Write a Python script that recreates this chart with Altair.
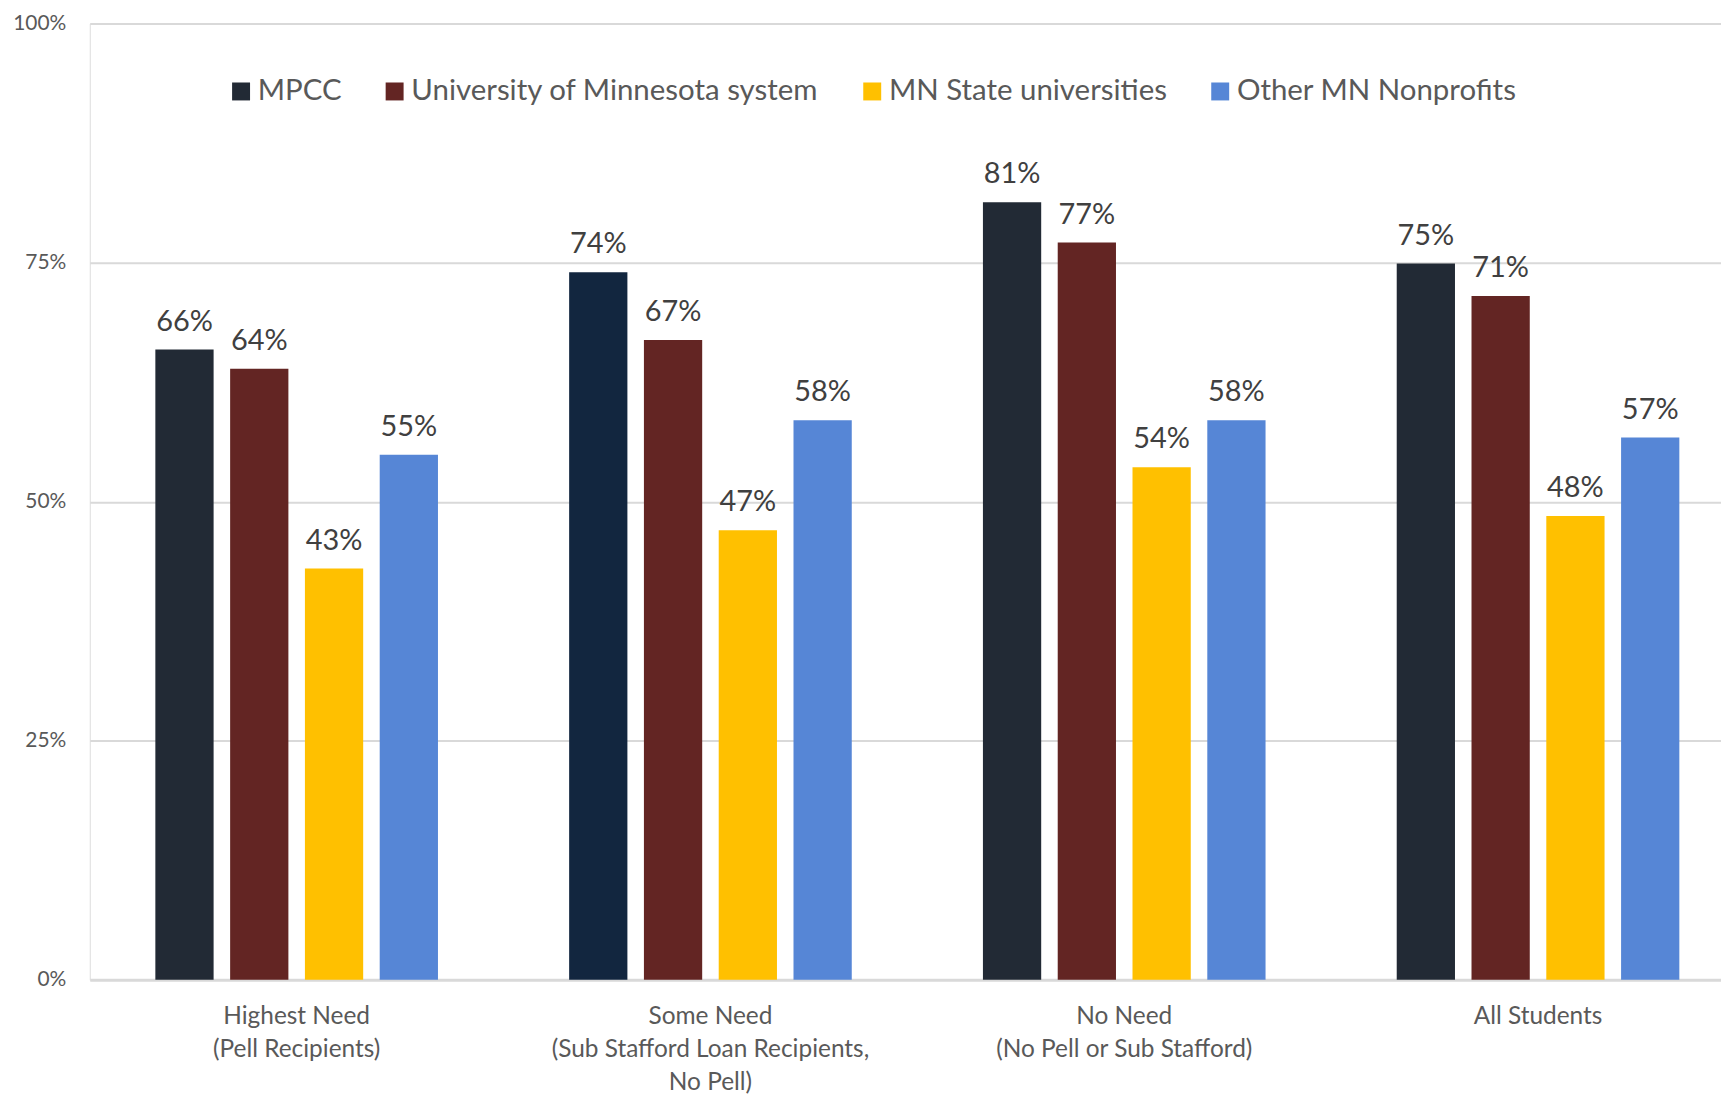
import altair as alt
import pandas as pd

FONT = "Lato"

categories = [
    "Highest Need\n(Pell Recipients)",
    "Some Need\n(Sub Stafford Loan Recipients,\nNo Pell)",
    "No Need\n(No Pell or Sub Stafford)",
    "All Students",
]
series = ["MPCC", "University of Minnesota system", "MN State universities", "Other MN Nonprofits"]

mpcc = [65.9, 74.0, 81.3, 74.9]
umn = [63.9, 66.9, 77.1, 71.5]
mn_state = [43.0, 47.0, 53.6, 48.5]
other_mn = [54.9, 58.5, 58.5, 56.7]

mpcc_labels = ["66%", "74%", "81%", "75%"]
umn_labels = ["64%", "67%", "77%", "71%"]
mn_state_labels = ["43%", "47%", "54%", "48%"]
other_mn_labels = ["55%", "58%", "58%", "57%"]

# the MPCC bar in "Some Need" has a slightly different (navier) shade
mpcc_shades = ["MPCC", "MPCC alt", "MPCC", "MPCC"]

colors = ["#222A35", "#632523", "#FFC000", "#5686D6"]
alt_color = "#12263F"

rows = []
for vals, labs, s in [(mpcc, mpcc_labels, series[0]), (umn, umn_labels, series[1]),
                      (mn_state, mn_state_labels, series[2]), (other_mn, other_mn_labels, series[3])]:
    for i, c in enumerate(categories):
        shade = mpcc_shades[i] if s == "MPCC" else s
        rows.append({"category": c, "series": s, "value": vals[i], "label": labs[i], "shade": shade})
df = pd.DataFrame(rows)

x_enc = alt.X(
    "category:N", sort=categories,
    scale=alt.Scale(range=[0, 1660], paddingInner=0, paddingOuter=0),
    axis=alt.Axis(title=None, labelExpr="split(datum.label, '\\n')", labelAngle=0,
                  labelFontSize=24.5, labelColor="#595959", labelFont=FONT,
                  labelPadding=25, labelLineHeight=33, ticks=False, labelLimit=1000,
                  domain=False, labelBaseline="top", grid=False),
)
xoff_enc = alt.XOffset("series:N", sort=series,
                       scale=alt.Scale(paddingInner=0.221, paddingOuter=0.877))
y_enc = alt.Y(
    "value:Q", scale=alt.Scale(domain=[0, 100], nice=False),
    axis=alt.Axis(values=[0, 25, 50, 75, 100], labelExpr="datum.value + '%'", title=None,
                  ticks=False, domain=False, domainColor="transparent", domainWidth=0,
                  domainOpacity=0, gridColor="#D9D9D9",
                  gridWidth=alt.ExprRef("datum.value === 0 ? 3 : 2"),
                  labelFontSize=21, labelColor="#595959", labelFont=FONT,
                  labelPadding=24, minExtent=77, maxExtent=77),
)

bars = alt.Chart(df).mark_bar().encode(
    x=x_enc, xOffset=xoff_enc, y=y_enc,
    color=alt.Color(
        "shade:N",
        scale=alt.Scale(domain=series + ["MPCC alt"], range=colors + [alt_color]),
        legend=alt.Legend(values=series, orient="none", legendX=137, legendY=53,
                          direction="horizontal", title=None, symbolType="square",
                          symbolSize=324, symbolStrokeWidth=0, labelFontSize=29.5,
                          labelFont=FONT, labelColor="#595959", columnPadding=38,
                          labelOffset=2, padding=0, labelLimit=1000),
    ),
)

texts = alt.Chart(df).mark_text(
    baseline="alphabetic", dy=-19, fontSize=29, font=FONT, color="#404040"
).encode(x=x_enc, xOffset=xoff_enc, y=y_enc, text="label:N")

chart = (
    alt.layer(bars, texts)
    .properties(width=1636, height=959,
                autosize=alt.AutoSizeParams(type="none"),
                padding={"left": 82, "top": 14, "right": 0, "bottom": 114})
    .configure_view(strokeWidth=0, stroke="transparent")
    .configure_axisY(domain=False, domainColor="transparent", domainWidth=0)
    .configure(font=FONT)
)

chart.save("out.html", embed_options={"renderer": "svg", "actions": False})
